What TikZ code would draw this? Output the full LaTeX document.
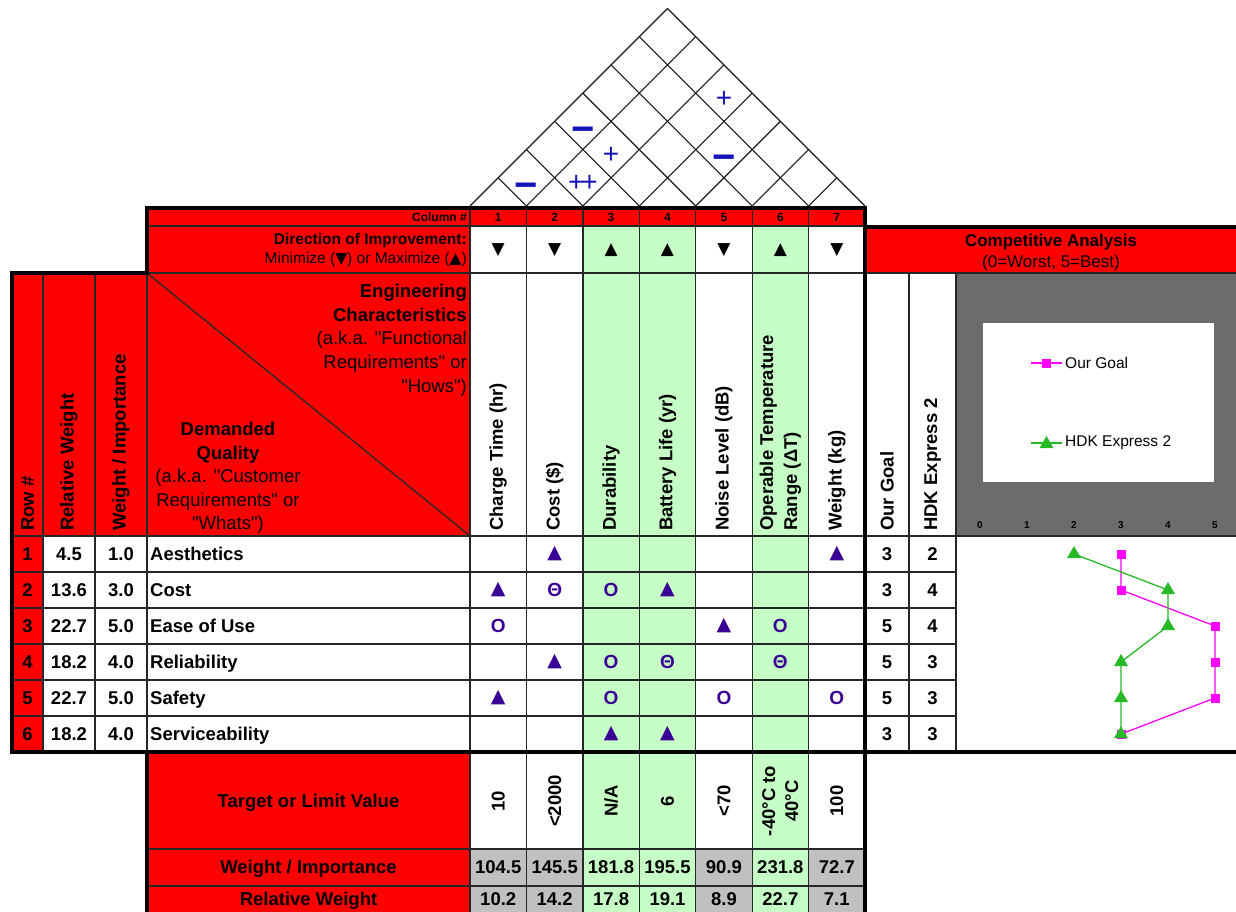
\documentclass[tikz,border=0pt]{standalone}
\usepackage{fontspec}
\setmainfont{Liberation Sans}[Ligatures=TeXOff]
\newfontfamily\symfont{DejaVu Sans}
\usetikzlibrary{positioning}
\usetikzlibrary{shapes.geometric}

\definecolor{hqred}{RGB}{255,0,0}
\definecolor{hqgreen}{RGB}{198,255,198}
\definecolor{hqgray}{RGB}{192,192,192}
\definecolor{chartgray}{RGB}{108,108,108}
\definecolor{relpurple}{RGB}{58,0,150}
\definecolor{roofblue}{RGB}{20,20,185}
\definecolor{goalpink}{RGB}{255,0,255}
\definecolor{hdkgreen}{RGB}{40,185,40}

\newcommand{\relstrong}{\textbf{Θ}}
\newcommand{\relmed}{\textbf{O}}
\newcommand{\relweak}{{\symfont ▲}}
\newcommand{\roofminus}{{\fontsize{40}{40}\selectfont\bfseries −}}

\begin{document}
\begin{tikzpicture}[x=1pt,y=-1pt,
  thin line/.style={line width=1.3pt,black!85},
  heavy line/.style={line width=4pt,black,line cap=rect},
  roof line/.style={line width=1.1pt,black!90},
  lbl/.style={inner sep=0pt,font=\fontsize{18.5}{22}\selectfont\bfseries},
  cell/.style={lbl,text height=13.3pt,text depth=0pt},
  vlbl/.style={inner sep=0pt,rotate=90,anchor=west,align=left,font=\fontsize{18.5}{24}\selectfont\bfseries},
  rel/.style={inner sep=0pt,text=relpurple,font=\fontsize{19}{19}\selectfont\bfseries},
  dirsym/.style={inner sep=0pt,font=\fontsize{17}{17}\selectfont\symfont},
  roofsign/.style={inner sep=0pt,text=roofblue,font=\fontsize{28}{28}\selectfont},
  axislbl/.style={inner sep=0pt,font=\fontsize{10}{10}\selectfont\bfseries},
  legendtxt/.style={inner sep=0pt,anchor=west,font=\fontsize{15.5}{18}\selectfont},
  goal mark/.style={rectangle,fill=goalpink,minimum size=9pt,inner sep=0pt},
  hdk mark/.style={regular polygon,regular polygon sides=3,fill=hdkgreen,minimum size=16pt,inner sep=0pt}]
 \useasboundingbox (0,0) rectangle (1236,912);
 \fill[white] (0,0) rectangle (1236,912);
 \def\cw{56.43}

 % fills
 \fill[hqred] (147,208) rectangle (865,226);
 \fill[hqred] (147,226) rectangle (470,273);
 \fill[hqred] (12,273) rectangle (470,536);
 \fill[hqred] (12,536) rectangle (43,752);
 \fill[hqred] (865,227) rectangle (1236,273);
 \fill[hqred] (147,752) rectangle (470,912);
 \foreach \i in {3,4,6} \fill[hqgreen] ({470+(\i-1)*\cw},226) rectangle ({470+\i*\cw},912);
 \foreach \i in {1,2,5,7} \fill[hqgray] ({470+(\i-1)*\cw},849) rectangle ({470+\i*\cw},912);
 \fill[chartgray] (956,273) rectangle (1236,536);
 \fill[white] (983,323) rectangle (1214,482);

 % grid
 \foreach \i in {0,...,6} \draw[thin line] ({470+\i*\cw},208) -- ({470+\i*\cw},912);
 \draw[thin line] (147,226) -- (865,226);
 \draw[thin line] (147,273) -- (865,273);
 \draw[thin line] (865,273) -- (1236,273);
 \draw[thin line] (12,536) -- (1236,536);
 \foreach \y in {572,608,644,680,716} \draw[thin line] (12,\y) -- (956,\y);
 \foreach \x in {43,95,147,909,956} \draw[thin line] (\x,273) -- (\x,752);
 \draw[thin line] (147,849) -- (865,849);
 \draw[thin line] (147,886) -- (865,886);
 \draw[thin line] (147,273) -- (470,536);

 \draw[heavy line] (12,752) -- (12,273) -- (147,273) -- (147,208) -- (865,208) -- (865,912);
 \draw[heavy line] (865,227) -- (1236,227);
 \draw[heavy line] (12,752) -- (1236,752);
 \draw[heavy line] (147,752) -- (147,912);

 % roof
 \foreach \k in {0,...,7} {
  \pgfmathsetmacro\bx{470+\k*\cw}
  \pgfmathsetmacro\tr{(7-\k)*\cw/2}
  \pgfmathsetmacro\tl{\k*\cw/2}
  \draw[roof line] (\bx,206) -- ++(\tr,-\tr);
  \draw[roof line] (\bx,206) -- ++(-\tl,-\tl);
 }
 \foreach \i/\j/\s/\dy [count=\n] in {1/2/\roofminus/13,2/3/{+\kern-3pt+}/6,2/4/+/6,1/4/\roofminus/13,3/7/+/6,4/6/\roofminus/13} {
  \pgfmathsetmacro\sx{470+((\i+\j)/2-0.5)*\cw}
  \pgfmathsetmacro\sy{206+\dy-(\j-\i)*\cw/2}
  \node[roofsign] (roof\n) at (\sx,\sy) {\s};
 }

 % header rows
 \node[lbl,anchor=east,font=\fontsize{12}{12}\selectfont\bfseries] (colhash) at (467,217) {Column \#};
 \node[lbl,anchor=east,align=right,font=\fontsize{15.5}{19}\selectfont] (dirtxt) at (467,250)
  {\textbf{Direction of Improvement:}\\Minimize ({\symfont ▼}) or Maximize ({\symfont ▲})};
 \foreach \s [count=\i] in {▼,▼,▲,▲,▼,▲,▼} {
  \node[lbl,font=\fontsize{12}{12}\selectfont\bfseries] (colnum\i) at ({470+(\i-0.5)*\cw},217) {\i};
  \node[dirsym] (dir\i) at ({470+(\i-0.5)*\cw},250) {\s};
 }
 \node[inner sep=0pt,anchor=east,align=right,font=\fontsize{18.5}{23.7}\selectfont] (hows) at (467,340)
  {\textbf{Engineering}\\\textbf{Characteristics}\\(a.k.a. "Functional\\Requirements" or\\"Hows")};
 \node[inner sep=0pt,align=center,font=\fontsize{18.5}{23.6}\selectfont] (whats) at (228,478)
  {\textbf{Demanded}\\\textbf{Quality}\\(a.k.a. "Customer\\Requirements" or\\"Whats")};
 \node[vlbl] (hrow) at (27.5,531) {Row \#};
 \node[vlbl] (hrelw) at (69,531) {Relative Weight};
 \node[vlbl] (hwimp) at (121,531) {Weight / Importance};
 \foreach \t [count=\i] in {Charge Time (hr),Cost (\$),Durability,Battery Life (yr),Noise Level (dB),{Operable Temperature\\Range (ΔT)},Weight (kg)}
  \node[vlbl] (eng\i) at ({470+(\i-0.5)*\cw},531) {\t};

 % competitive analysis
 \node[inner sep=0pt,align=center,font=\fontsize{17}{21}\selectfont] (comp) at (1051,253)
  {\textbf{Competitive Analysis}\\(0=Worst, 5=Best)};
 \node[vlbl] (hgoal) at (887,531) {Our Goal};
 \node[vlbl] (hhdk) at (932.5,531) {HDK Express 2};
 \foreach \v in {0,...,5} \node[axislbl] (ax\v) at ({980+47*\v},525) {\v};
 \coordinate (lga) at (1031,363);
 \coordinate (lgb) at (1062,363);
 \coordinate (lgc) at (1031,443);
 \coordinate (lgd) at (1062,443);
 \draw[goalpink,line width=1.3pt] (lga) -- (lgb);
 \draw[hdkgreen,line width=1.3pt] (lgc) -- (lgd);
 \node[goal mark] (lgmark1) at (1046.5,363) {};
 \node[hdk mark] (lgmark2) at (1046.5,444) {};
 \node[legendtxt] (lgtxt1) at (1065,363) {Our Goal};
 \node[legendtxt] (lgtxt2) at (1065,443) {HDK Express 2};

 % rows
 \foreach \rw/\wi/\nm/\g/\h [count=\r] in {4.5/1.0/Aesthetics/3/2,13.6/3.0/Cost/3/4,22.7/5.0/Ease of Use/5/4,18.2/4.0/Reliability/5/3,22.7/5.0/Safety/5/3,18.2/4.0/Serviceability/3/3} {
  \pgfmathsetmacro\ry{536+(\r-0.5)*36}
  \node[cell] (rnum\r) at (27.5,\ry) {\r};
  \node[cell] (rrw\r) at (69,\ry) {\rw};
  \node[cell] (rwi\r) at (121,\ry) {\wi};
  \node[cell,anchor=west] (rname\r) at (150,\ry) {\nm};
  \node[cell] (rgoal\r) at (887,\ry) {\g};
  \node[cell] (rhdk\r) at (932.5,\ry) {\h};
  \coordinate (g\r) at ({980+47*\g},\ry);
  \coordinate (h\r) at ({980+47*\h},\ry);
 }
 \foreach \r/\i/\s in {1/2/\relweak,1/7/\relweak,2/1/\relweak,2/2/\relstrong,2/3/\relmed,2/4/\relweak,
  3/1/\relmed,3/5/\relweak,3/6/\relmed,4/2/\relweak,4/3/\relmed,4/4/\relstrong,4/6/\relstrong,
  5/1/\relweak,5/3/\relmed,5/5/\relmed,5/7/\relmed,6/3/\relweak,6/4/\relweak}
  \node[rel] (m\r-\i) at ({470+(\i-0.5)*\cw},{536+(\r-0.5)*36}) {\s};

 \draw[goalpink,line width=1.3pt] (g1) -- (g2) -- (g3) -- (g4) -- (g5) -- (g6);
 \foreach \r in {1,...,6} \node[goal mark] (gm\r) at (g\r) {};
 \draw[hdkgreen,line width=1.3pt] (h1) -- (h2) -- (h3) -- (h4) -- (h5) -- (h6);
 \foreach \r in {1,...,6} \node[hdk mark] (hm\r) at (h\r) {};

 % bottom rows
 \node[cell] (target) at (308.5,801) {Target or Limit Value};
 \node[cell] (bwimp) at (308.5,867) {Weight / Importance};
 \node[cell] (brelw) at (308.5,899) {Relative Weight};
 \foreach \t/\w/\rv [count=\i] in {10/104.5/10.2,<2000/145.5/14.2,{N/A}/181.8/17.8,6/195.5/19.1,<70/90.9/8.9,{-40°C to\\40°C}/231.8/22.7,100/72.7/7.1} {
  \node[lbl,rotate=90,align=center,font=\fontsize{18.5}{23}\selectfont\bfseries] (tv\i) at ({470+(\i-0.5)*\cw},801) {\t};
  \node[cell] (wv\i) at ({470+(\i-0.5)*\cw},867) {\w};
  \node[cell] (rv\i) at ({470+(\i-0.5)*\cw},899) {\rv};
 }
\end{tikzpicture}
\end{document}
